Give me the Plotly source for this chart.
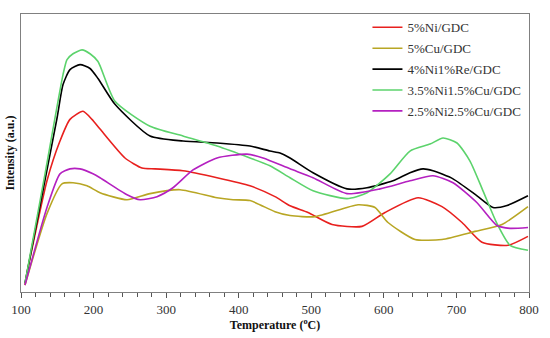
import plotly.graph_objects as go

# Temperature (°C) and intensity (a.u., 0-100 scale)
t_ni = [105.5, 108.3, 135.8, 153.7, 167.5, 185.4, 197.8, 208.9, 243.3, 266.7, 284.6, 323.2, 370.1, 415.5, 450,
        470.7, 495.5, 528.6, 569.9, 601.6, 647.1, 680.1, 707.7, 735.2, 771.1, 798.6]
v_ni = [2.5, 6.8, 40.0, 54.3, 62.1, 65.0, 62.1, 58.6, 48.2, 44.6, 44.3, 43.6, 41.1, 38.2, 34.3,
        31.0, 28.6, 24.3, 23.6, 28.6, 33.9, 30.7, 25.0, 17.9, 16.8, 20.0]

t_cu = [105.5, 135.8, 156.5, 171.7, 190.9, 208.9, 246.1, 277.8, 319.1, 370.1, 392.1, 415.5, 450, 470.7,
        505.1, 564.4, 587.8, 605.7, 642.9, 680.1, 725.6, 762.8, 798.6]
v_cu = [2.5, 28.2, 38.9, 39.3, 38.2, 35.7, 33.2, 35.4, 36.8, 33.9, 33.2, 32.9, 28.9, 27.5,
        27.1, 31.4, 30.4, 25.0, 18.9, 18.9, 21.8, 24.3, 30.7]

t_re = [105.5, 149.6, 157.9, 167.5, 181.3, 195.1, 206.1, 229.5, 277.8, 323.2, 370.1, 415.5, 443.1, 456.9,
        470.7, 502.4, 549.2, 576.8, 612.6, 636, 653.9, 667.7, 695.3, 728.4, 750.4, 769.7, 798.6]
v_re = [3.2, 62.5, 74.6, 80.0, 81.8, 80.4, 76.8, 67.5, 56.1, 54.3, 53.6, 52.5, 50.7, 50.0,
        48.2, 42.9, 37.1, 37.5, 40.0, 42.9, 44.3, 43.6, 40.7, 34.6, 30.4, 31.1, 34.6]

t_nicu15 = [105.5, 133.1, 157.9, 163.4, 171.7, 184.1, 195.1, 206.1, 229.5, 277.8, 323.2, 370.1, 415.5, 443.1,
            470.7, 502.4, 549.2, 576.8, 608.5, 636, 663.6, 681.5, 700.8, 718.7, 736.6, 755.9, 773.8, 798.6]
v_nicu15 = [3.2, 42.5, 78.2, 83.6, 85.7, 87.1, 85.7, 82.9, 68.6, 59.6, 56.1, 52.5, 48.2, 45.4,
            41.1, 36.4, 33.6, 35.7, 42.5, 50.7, 53.2, 55.4, 53.6, 47.1, 36.4, 24.6, 16.8, 15.0]

t_nicu25 = [105.5, 135.8, 153.7, 167.5, 181.3, 199.2, 208.9, 246.1, 264, 287.4, 309.4, 337, 370.1, 411.4, 433.5,
            470.7, 502.4, 549.2, 594.7, 636, 667.7, 695.3, 728.4, 755.9, 773.8, 798.6]
v_nicu25 = [2.5, 30.4, 42.5, 44.3, 44.3, 42.5, 41.1, 35.0, 33.2, 34.3, 37.5, 43.9, 48.2, 49.6, 48.2,
            44.3, 41.1, 35.4, 37.1, 40.0, 41.8, 39.3, 32.1, 23.9, 22.9, 23.2]

series = [
    ("5%Ni/GDC", t_ni, v_ni, "#e8201e"),
    ("5%Cu/GDC", t_cu, v_cu, "#b8a624"),
    ("4%Ni1%Re/GDC", t_re, v_re, "#000000"),
    ("3.5%Ni1.5%Cu/GDC", t_nicu15, v_nicu15, "#5cd36c"),
    ("2.5%Ni2.5%Cu/GDC", t_nicu25, v_nicu25, "#b420c0"),
]

x_ticks = [100, 200, 300, 400, 500, 600, 700, 800]

fig = go.Figure()
for i, (name, t, v, c) in enumerate(series):
    fig.add_trace(go.Scatter(x=t, y=v, name=name, mode="lines", legendgroup=f"g{i}",
                             line=dict(color=c, width=1.6, shape="spline", smoothing=0.6)))

fig.update_layout(
    width=550, height=338,
    margin=dict(l=21, r=21, t=12, b=46),
    paper_bgcolor="white", plot_bgcolor="white",
    font=dict(family="Liberation Serif", size=12, color="#333333"),
    showlegend=True,
    legend=dict(x=0.682, y=1.006, xanchor="left", yanchor="top",
                bgcolor="rgba(0,0,0,0)", borderwidth=0, itemwidth=30,
                font=dict(family="Liberation Serif", size=13, color="#333333"),
                tracegroupgap=1),
    xaxis=dict(range=[100, 800], tickvals=x_ticks, ticks="outside", ticklen=5,
               ticklabelstandoff=0, automargin=False,
               tickcolor="#555555", showline=True, linecolor="#808080", linewidth=1,
               mirror=True, showgrid=False, zeroline=False,
               minor=dict(dtick=20, ticks="outside", ticklen=4, tickcolor="#555555"),
               tickfont=dict(size=13, color="#333333"),
               title=dict(text="<b>Temperature (<sup>o</sup>C)</b>", standoff=4,
                          font=dict(size=12, color="#111111"))),
    yaxis=dict(range=[0, 100], showticklabels=False, ticks="", showline=True,
               automargin=False,
               linecolor="#808080", linewidth=1, mirror=True, showgrid=False, zeroline=False,
               title=dict(text="<b>Intensity (a.u.)</b>", standoff=2,
                          font=dict(size=12, color="#111111"))),
)

fig.write_html("out.html", config={"displayModeBar": False},
               post_script="document.body.style.margin='0';")
